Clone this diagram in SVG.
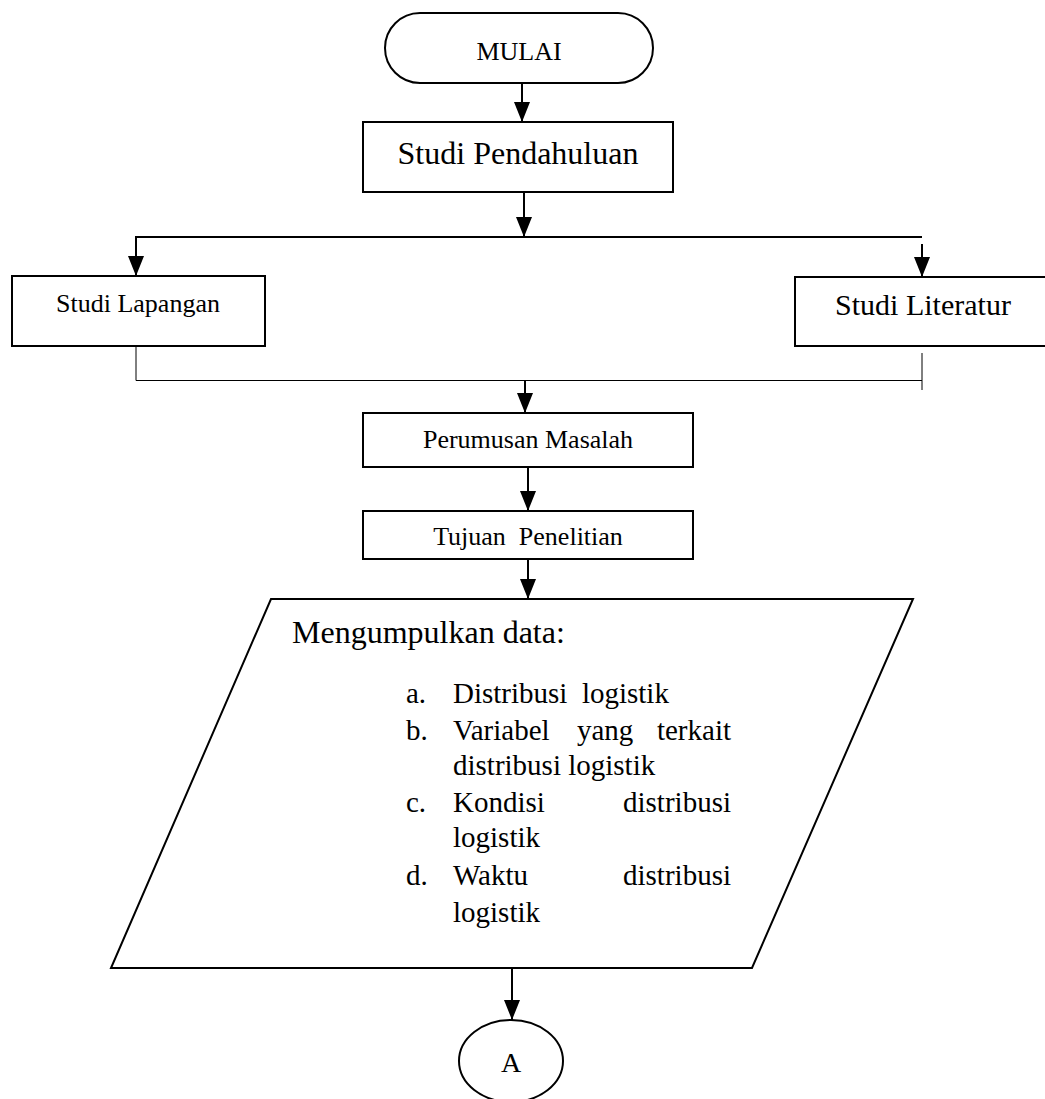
<svg xmlns="http://www.w3.org/2000/svg" width="1045" height="1099" viewBox="0 0 1045 1099">
  <style>
    .shape { fill: #fff; stroke: #000; stroke-width: 2; }
    .line { fill: none; stroke: #000; stroke-width: 2; }
    .thin { fill: none; stroke: #000; stroke-width: 1; }
    .txt { font-family: "Liberation Serif", "Times New Roman", serif; fill: #000; }
    .mid { text-anchor: middle; }
    .end { text-anchor: end; }
  </style>
  <defs>
    <marker id="arrow" markerUnits="userSpaceOnUse" markerWidth="20" markerHeight="16" refX="20" refY="8" orient="auto">
      <path d="M0,0 L20,8 L0,16 z" fill="#000"/>
    </marker>
  </defs>

  <rect width="1045" height="1099" fill="#fff"/>

  <!-- connectors -->
  <g id="connectors">
    <line class="line" x1="522" y1="84" x2="522" y2="122" marker-end="url(#arrow)"/>
    <line class="line" x1="524" y1="192" x2="524" y2="237" marker-end="url(#arrow)"/>
    <line class="line" x1="135" y1="237" x2="922" y2="237"/>
    <line class="line" x1="136" y1="237" x2="136" y2="276" marker-end="url(#arrow)"/>
    <line class="line" x1="922" y1="244" x2="922" y2="277" marker-end="url(#arrow)"/>
    <polyline class="thin" points="136,346 136,380.5 922,380.5"/>
    <line class="thin" x1="922" y1="353" x2="922" y2="390"/>
    <line class="line" x1="525" y1="381" x2="525" y2="413" marker-end="url(#arrow)"/>
    <line class="line" x1="528" y1="467" x2="528" y2="511" marker-end="url(#arrow)"/>
    <line class="line" x1="528" y1="559" x2="528" y2="599" marker-end="url(#arrow)"/>
    <line class="line" x1="512" y1="968" x2="512" y2="1020" marker-end="url(#arrow)"/>
  </g>

  <!-- start terminator -->
  <g id="mulai">
    <rect class="shape" x="385" y="13" width="268" height="70" rx="35" ry="35"/>
    <text class="txt mid" x="519" y="60" font-size="26">MULAI</text>
  </g>

  <g id="studi-pendahuluan">
    <rect class="shape" x="363" y="122" width="310" height="70"/>
    <text class="txt mid" x="518" y="164" font-size="32">Studi Pendahuluan</text>
  </g>

  <g id="studi-lapangan">
    <rect class="shape" x="12" y="276" width="253" height="70"/>
    <text class="txt mid" x="138" y="312" font-size="26">Studi Lapangan</text>
  </g>

  <g id="studi-literatur">
    <rect class="shape" x="795" y="277" width="260" height="69"/>
    <text class="txt mid" x="923" y="315" font-size="30">Studi Literatur</text>
  </g>

  <g id="perumusan-masalah">
    <rect class="shape" x="363" y="413" width="330" height="54"/>
    <text class="txt mid" x="528" y="448" font-size="26">Perumusan Masalah</text>
  </g>

  <g id="tujuan-penelitian">
    <rect class="shape" x="363" y="511" width="330" height="48"/>
    <text class="txt mid" x="528" y="545" font-size="26" xml:space="preserve">Tujuan  Penelitian</text>
  </g>

  <!-- data input parallelogram -->
  <g id="mengumpulkan-data">
    <polygon class="shape" points="271,599 913,599 752,968 111,968"/>
    <text class="txt" x="292" y="643" font-size="32">Mengumpulkan data:</text>
    <g font-size="29" class="txt">
      <text x="406" y="703">a.</text>
      <text x="453" y="703" xml:space="preserve">Distribusi  logistik</text>
      <text x="406" y="740">b.</text>
      <text x="453" y="740">Variabel</text>
      <text x="577" y="740">yang</text>
      <text class="end" x="731" y="740">terkait</text>
      <text x="453" y="775">distribusi logistik</text>
      <text x="406" y="812">c.</text>
      <text x="453" y="812">Kondisi</text>
      <text class="end" x="731" y="812">distribusi</text>
      <text x="453" y="847">logistik</text>
      <text x="406" y="885">d.</text>
      <text x="453" y="885">Waktu</text>
      <text class="end" x="731" y="885">distribusi</text>
      <text x="453" y="922">logistik</text>
    </g>
  </g>

  <!-- page number, partly under the connector -->
  <text class="txt" x="442" y="1116" font-size="26">17</text>

  <g id="connector-a">
    <ellipse class="shape" cx="511" cy="1061" rx="52" ry="41"/>
    <text class="txt mid" x="511" y="1072" font-size="28">A</text>
  </g>
</svg>
